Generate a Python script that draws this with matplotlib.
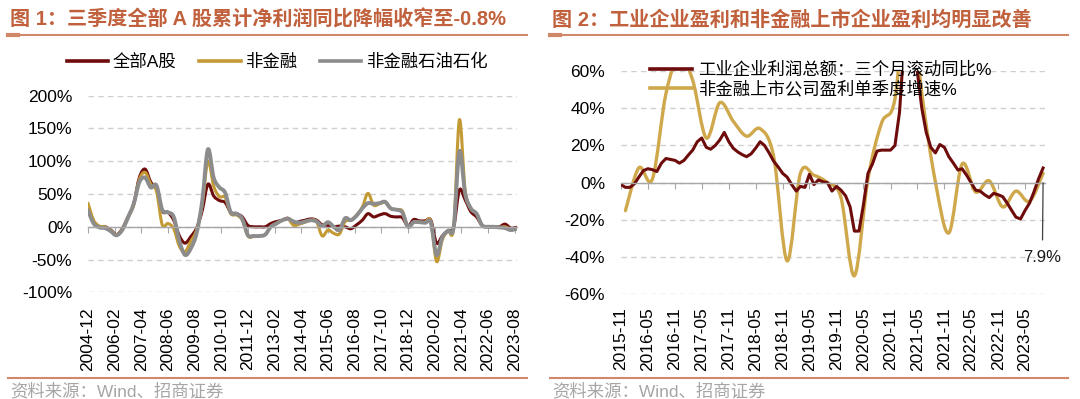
import matplotlib
matplotlib.use('Agg')
import matplotlib.pyplot as plt
import matplotlib.dates as mdates
from matplotlib.path import Path
from matplotlib.patches import PathPatch
from matplotlib.lines import Line2D
import numpy as np
import pandas as pd

plt.rcParams['font.family'] = ['Liberation Sans', 'Noto Sans CJK SC']

# ---- chart 1: cumulative net profit YoY (%), quarterly 2004Q4 .. 2023Q3
q_start = '2004-12-01'
all_a = [30, 8, 0, 0, -5, -12, -3, 15, 35, 75, 88, 68, 58, 24, 22, 10,
         -14, -25, -15, -2, 25, 65, 47, 40, 37, 22, 20, 15, 2, 0, 0, 0,
         5, 8, 10, 13, 5, 8, 10, 12, 10, 3, 2, 0, 1, 0, -3, 3,
         10, 20, 15, 18, 20, 16, 15, 14, 1, 11, 9, 9, 10, -25, -14, -6,
         0, 56, 41, 23, 15, 2, 0, 0, 0, 4, -2, -0.8]
non_fin = [36, 10, 1, 0, -6, -12, -4, 14, 33, 72, 83, 65, 54, 3, 5, -3,
           -30, -38, -22, -5, 35, 100, 62, 46, 45, 20, 18, 10, -14, -15, -14, -12,
           0, 5, 10, 12, 2, 4, 7, 10, 8, -14, -5, -10, -11, 8, 10, 18,
           30, 51, 33, 35, 37, 28, 26, 24, 0, 7, 7, 7, 8, -53, -20, -6,
           0, 163, 56, 28, 20, 2, 0, 0, -1, 0, -4, -2]
non_fin_ex_oil = [25, 5, -1, -2, -7, -13, -5, 14, 35, 68, 75, 60, 63, 26, 22, 15,
                  -22, -43, -33, -10, 40, 118, 75, 60, 52, 22, 20, 12, -13, -14, -14, -12,
                  0, 5, 10, 12, 8, 6, 8, 10, 8, 1, 7, 0, -5, 13, 10, 17,
                  28, 36, 35, 36, 38, 28, 26, 22, 0, 7, 7, 6, 6, -43, -16, -6,
                  0, 115, 51, 28, 20, 2, 0, 0, -1, -2, -5, -3]
left_ticks = ['2004-12', '2006-02', '2007-04', '2008-06', '2009-08', '2010-10',
              '2011-12', '2013-02', '2014-04', '2015-06', '2016-08', '2017-10',
              '2018-12', '2020-02', '2021-04', '2022-06', '2023-08']
left_yticks = [-100, -50, 0, 50, 100, 150, 200]

# ---- chart 2: industrial profit (3m rolling YoY, monthly) & listed non-fin (quarterly)
m_start = '2015-11-01'
ind_profit = [-1, -2.5, -2.5, -0.5, 3, 6.5, 7.5, 7, 6, 10.5, 13, 12.5, 12, 10.5, 12, 15,
              17.5, 22, 24, 19, 18, 20, 23, 27, 22, 18.5, 16.5, 15, 14, 15.5, 18.5, 22,
              20, 16, 11.5, 8.5, 5, 3, -1, -4.5, -2, -2.5, 4.5, -1, 1.5, 0.5, 0, -4.5,
              -2, -4, -7, -13, -26, -26, -12, 5, 10, 17, 17.5, 17.5, 17.5, 20, 38, 75,
              130, 100, 60, 40, 27, 19, 16, 20.5, 19, 14, 10.5, 6.8, 7.5, 4, 0, -4,
              -4.5, -6.5, -8, -5.7, -6.5, -7.5, -11, -15, -18.5, -19.5, -15, -11, -5, 2, 7.9]
lq_start = '2015-12-01'
listed_nonfin = [-15, 8, 2, 48, 68, 55, 24, 43, 33, 25, 29, 14, -42, 5, 4, 0,
                 -8, -50, 2, 32, 45, 110, 48, 0.5, -27, 10, -5, 1, -13, -4.5, -10, 5]
right_ticks = ['2015-11', '2016-05', '2016-11', '2017-05', '2017-11', '2018-05',
               '2018-11', '2019-05', '2019-11', '2020-05', '2020-11', '2021-05',
               '2021-11', '2022-05', '2022-11', '2023-05']
right_yticks = [-60, -40, -20, 0, 20, 40, 60]

maroon = '#6E0B0B'
gold_l = '#C49A35'
gold_r = '#CFA84B'
grey = '#8C8C8C'
title_c = '#C0603C'
rule_c = '#D08868'

W, H = 1080, 399


def fx(px):
    return px / W


def fy(py):
    return 1 - py / H


def smooth_path(x, y):
    # Excel-like smoothed line (Bezier through the data points)
    x = np.asarray(x, float)
    y = np.asarray(y, float)
    n = len(x)
    verts = [(x[0], y[0])]
    codes = [Path.MOVETO]
    for i in range(n - 1):
        x0, y0 = (x[i - 1], y[i - 1]) if i > 0 else (x[i], y[i])
        x3, y3 = (x[i + 2], y[i + 2]) if i + 2 < n else (x[i + 1], y[i + 1])
        c1 = (x[i] + (x[i + 1] - x0) / 6, y[i] + (y[i + 1] - y0) / 6)
        c2 = (x[i + 1] - (x3 - x[i]) / 6, y[i + 1] - (y3 - y[i]) / 6)
        verts += [c1, c2, (x[i + 1], y[i + 1])]
        codes += [Path.CURVE4] * 3
    return Path(verts, codes)


def add_smooth(ax, x, y, color, lw):
    ax.add_patch(PathPatch(smooth_path(x, y), facecolor='none', edgecolor=color,
                           lw=lw, capstyle='round', joinstyle='round'))


def style_axes(ax, yticks, tick_dates, tick_labels, xpad):
    for s in ['top', 'right', 'left']:
        ax.spines[s].set_visible(False)
    ax.spines['bottom'].set_position(('data', 0))
    ax.spines['bottom'].set_color('#A6A6A6')
    ax.spines['bottom'].set_linewidth(1.0)
    ax.set_axisbelow(True)
    ax.set_yticks(yticks, [f'{v}%' for v in yticks])
    ax.tick_params(axis='y', length=0, labelsize=12.5, pad=11.5, colors='#000000')
    ax.yaxis.grid(True, ls=(0, (4, 3)), color='#D0D0D0', lw=1)
    pos = mdates.date2num(pd.to_datetime(tick_dates))
    ax.set_xticks(pos)
    ax.tick_params(axis='x', direction='out', length=4, color='#A6A6A6',
                   labelbottom=False)
    sec = ax.secondary_xaxis('bottom')
    sec.set_xticks(pos, tick_labels)
    sec.tick_params(length=0, pad=xpad, labelsize=12.5, labelrotation=90)
    sec.spines['bottom'].set_visible(False)


fig = plt.figure(figsize=(W / 100, H / 100), dpi=100)

# ---------------- left chart
ax1 = fig.add_axes([fx(88), fy(292.3), fx(517 - 88), (292.3 - 95.7) / H])
qd = mdates.date2num(pd.date_range(q_start, periods=len(all_a), freq='3MS'))
add_smooth(ax1, qd, all_a, maroon, 2.2)
add_smooth(ax1, qd, non_fin, gold_l, 2.2)
add_smooth(ax1, qd, non_fin_ex_oil, grey, 2.8)
ax1.set_xlim(qd[0], qd[-1] + 7)
ax1.set_ylim(-100, 200)
style_axes(ax1, left_yticks, left_ticks, left_ticks, 11)

fig.legend([Line2D([], [], color=maroon, lw=2.6),
            Line2D([], [], color=gold_l, lw=2.6),
            Line2D([], [], color=grey, lw=2.6)],
           ['全部A股', '非金融', '非金融石油石化'],
           loc='center left', bbox_to_anchor=(fx(66.7), fy(61.7)),
           bbox_transform=fig.transFigure, ncol=3, frameon=False, fontsize=12.5,
           handlelength=2.4, handletextpad=0.25, columnspacing=1.3,
           borderpad=0, borderaxespad=0)

# ---------------- right chart
ax2 = fig.add_axes([fx(621), fy(294.4), fx(1045 - 621), (294.4 - 71) / H])
md = mdates.date2num(pd.date_range(m_start, periods=len(ind_profit), freq='MS'))
lq = mdates.date2num(pd.date_range(lq_start, periods=len(listed_nonfin), freq='3MS'))
ax2.plot(md, ind_profit, color=maroon, lw=2.2, solid_joinstyle='round')
add_smooth(ax2, lq, listed_nonfin, gold_r, 2.4)
ax2.set_xlim(md[0], md[-1] + 13)
ax2.set_ylim(-60, 60)
style_axes(ax2, right_yticks, right_ticks, right_ticks, 9.5)

ax2.annotate(f'{ind_profit[-1]:.1f}%', xy=(md[-1], 0), xytext=(md[-1] - 5, -40),
             ha='center', va='center', fontsize=12, color='#1A1A1A',
             annotation_clip=False,
             arrowprops=dict(arrowstyle='-', color='#404040', lw=0.9,
                             shrinkA=5, shrinkB=0))

fig.legend([Line2D([], [], color=maroon, lw=2.6),
            Line2D([], [], color=gold_r, lw=2.6)],
           ['工业企业利润总额：三个月滚动同比%', '非金融上市公司盈利单季度增速%'],
           loc='center left', bbox_to_anchor=(fx(650), fy(79.3)),
           bbox_transform=fig.transFigure, ncol=1, frameon=False, fontsize=12.5,
           handlelength=2.4, handletextpad=0.35, labelspacing=0.15,
           borderpad=0, borderaxespad=0)

# ---------------- titles, rules and sources
titles = ['图 1：三季度全部 A 股累计净利润同比降幅收窄至-0.8%',
          '图 2：工业企业盈利和非金融上市企业盈利均明显改善']
for x0, x1, t in [(7.6, 527, titles[0]), (550, 1067.6, titles[1])]:
    fig.text(fx(x0 + 2.5), fy(19.8), t, color=title_c, fontsize=14.5,
             fontweight='bold', va='center', ha='left')
    fig.add_artist(Line2D([fx(x0), fx(x1)], [fy(34.5)] * 2, color=rule_c, lw=1.5))
    fig.add_artist(Line2D([fx(x0), fx(x0 + 10)], [fy(34.5)] * 2, color=rule_c, lw=3))
    fig.add_artist(Line2D([fx(x0), fx(x1)], [fy(378)] * 2, color=rule_c, lw=1.5))
    fig.text(fx(x0 + 2.5), fy(391), '资料来源：Wind、招商证券', color='#A6A6A6',
             fontsize=12.5, va='center', ha='left')

fig.savefig('out.png', dpi=100)
